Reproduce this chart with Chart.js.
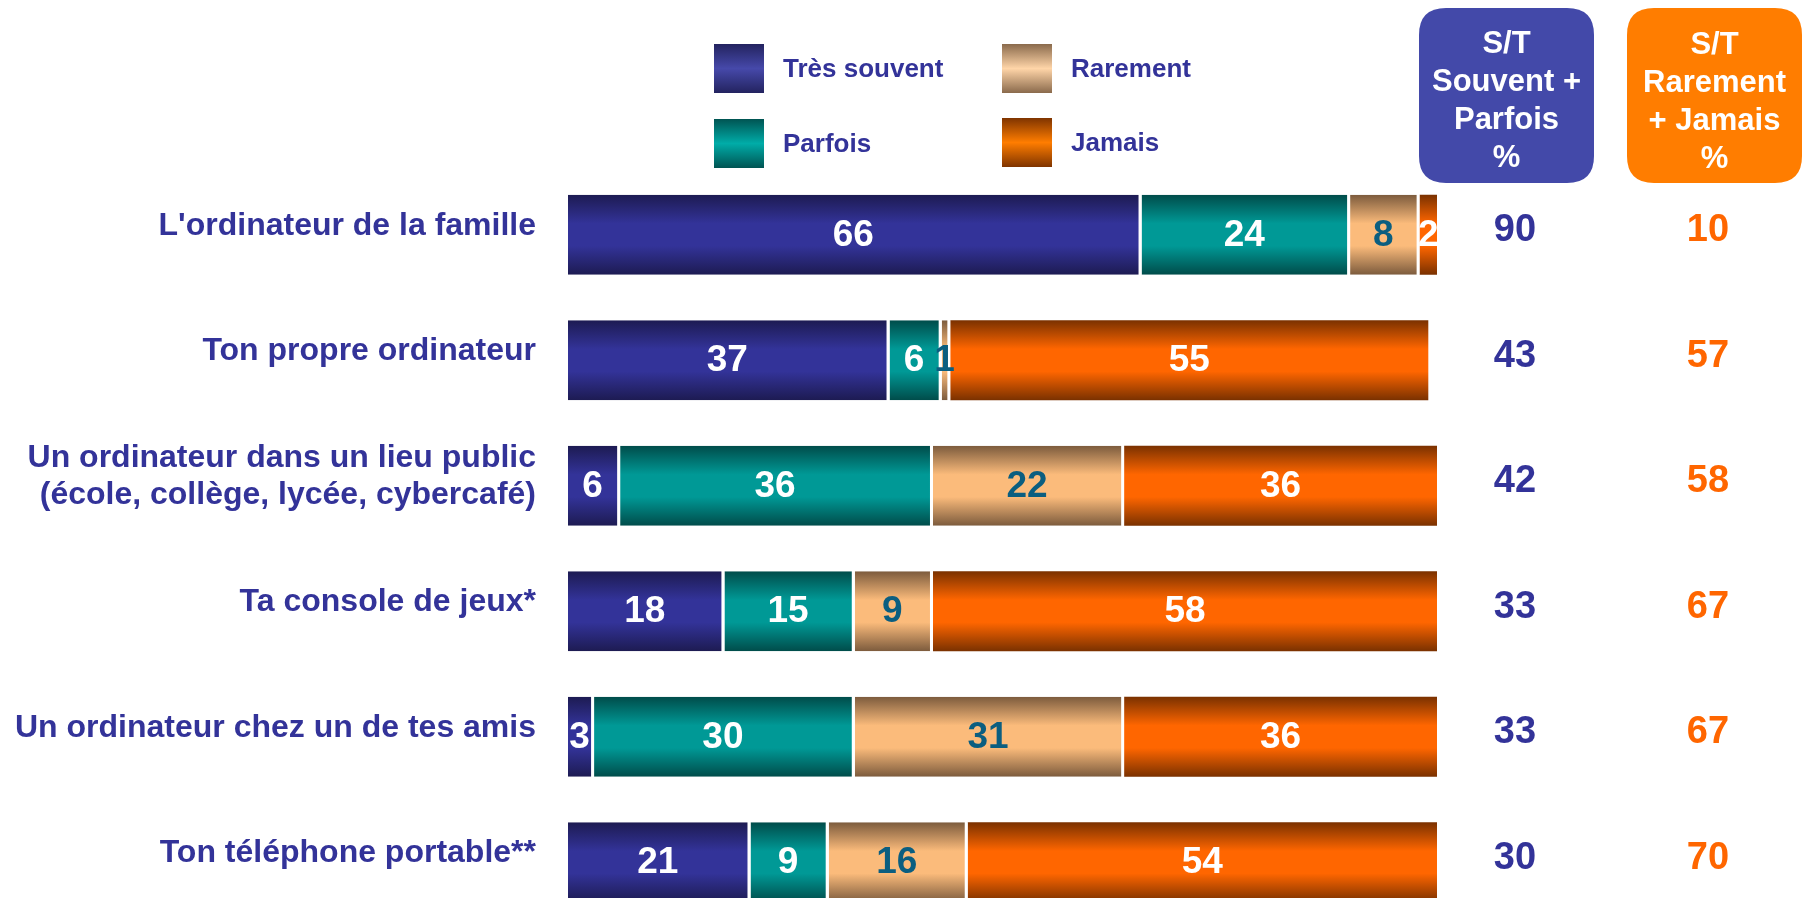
<!DOCTYPE html>
<html>
<head>
<meta charset="utf-8">
<script src="https://cdn.jsdelivr.net/npm/chart.js@4/dist/chart.umd.min.js"></script>
<style>
  html, body { margin: 0; padding: 0; background: #ffffff; overflow: hidden; }
  #frame { width: 1803px; height: 898px; overflow: hidden; position: relative; }
  #chart { display: block; }
</style>
</head>
<body>
<div id="frame"><canvas id="chart" width="1803" height="930"></canvas></div>
<script>
// ---------- data ----------
const CATEGORIES = [
  "L'ordinateur de la famille",
  "Ton propre ordinateur",
  ["Un ordinateur dans un lieu public", "(école, collège, lycée, cybercafé)"],
  "Ta console de jeux*",
  "Un ordinateur chez un de tes amis",
  "Ton téléphone portable**"
];
const SERIES_NAMES = ["Très souvent", "Parfois", "Rarement", "Jamais"];
const TRES_SOUVENT = [66, 37, 6, 18, 3, 21];
const PARFOIS      = [24, 6, 36, 15, 30, 9];
const RAREMENT     = [8, 1, 22, 9, 31, 16];
const JAMAIS       = [2, 55, 36, 58, 36, 54];
const ST_SOUVENT_PARFOIS = [90, 43, 42, 33, 33, 30];
const ST_RAREMENT_JAMAIS = [10, 57, 58, 67, 67, 70];
const HEADER_LEFT  = ["S/T", "Souvent +", "Parfois", "%"];
const HEADER_RIGHT = ["S/T", "Rarement", "+ Jamais", "%"];

// ---------- styles ----------
const FONT = '"Liberation Sans", Arial, Helvetica, sans-serif';
const TEXT_BLUE = '#333399';
const TEXT_ORANGE = '#ff6600';
const BAR_PCT = 0.637;
const STYLES = [
  { edge: '#1d1b52', mid: '#333399', legEdge: '#23235f', legMid: '#4649aa', label: '#ffffff' },
  { edge: '#004c4a', mid: '#009996', legEdge: '#005452', legMid: '#00aca8', label: '#ffffff' },
  { edge: '#7c5b3d', mid: '#fbbb7b', legEdge: '#8a6a4c', legMid: '#ffd5a8', label: '#0b5e80' },
  { edge: '#7a3100', mid: '#ff6600', legEdge: '#7f3400', legMid: '#ff7d00', label: '#ffffff' }
];
const GAP = 3;

function barGradient(ctx, style) {
  if (ctx.type !== 'data') return style.mid;
  const chart = ctx.chart;
  const ys = chart.scales && chart.scales.y;
  if (!ys || !chart.chartArea) return style.mid;
  const c = ys.getPixelForValue(ctx.dataIndex);
  const half = (ys.height / CATEGORIES.length) * BAR_PCT / 2;
  const g = chart.ctx.createLinearGradient(0, c - half, 0, c + half);
  g.addColorStop(0, style.edge);
  g.addColorStop(0.36, style.mid);
  g.addColorStop(0.64, style.mid);
  g.addColorStop(1, style.edge);
  return g;
}

const SERIES = [TRES_SOUVENT, PARFOIS, RAREMENT, JAMAIS];
const datasets = SERIES.map((vals, i) => ({
  label: SERIES_NAMES[i],
  data: vals,
  backgroundColor: (ctx) => barGradient(ctx, STYLES[i]),
  borderColor: '#ffffff',
  borderWidth: { left: 0, right: i === SERIES.length - 1 ? 0 : GAP, top: 0, bottom: 0 },
  borderSkipped: false,
  barPercentage: BAR_PCT,
  categoryPercentage: 1.0
}));

// ---------- plugins ----------
const barLabels = {
  id: 'barLabels',
  afterDatasetsDraw(chart) {
    const ctx = chart.ctx, a = chart.chartArea;
    ctx.save();
    ctx.beginPath();
    ctx.rect(a.left, a.top, a.right - a.left, a.bottom - a.top);
    ctx.clip();
    ctx.font = 'bold 37px ' + FONT;
    ctx.textAlign = 'center';
    ctx.textBaseline = 'middle';
    chart.data.datasets.forEach((ds, i) => {
      const meta = chart.getDatasetMeta(i);
      const br = ds.borderWidth.right || 0;
      meta.data.forEach((el, j) => {
        const p = el.getProps(['x', 'y', 'base'], true);
        const cx = (p.base + p.x - br) / 2;
        ctx.fillStyle = STYLES[i].label;
        ctx.fillText(String(ds.data[j]), cx, p.y + 1);
      });
    });
    ctx.restore();
  }
};

function roundRect(ctx, x, y, w, h, r) {
  ctx.beginPath();
  ctx.moveTo(x + r, y);
  ctx.lineTo(x + w - r, y);
  ctx.quadraticCurveTo(x + w, y, x + w, y + r);
  ctx.lineTo(x + w, y + h - r);
  ctx.quadraticCurveTo(x + w, y + h, x + w - r, y + h);
  ctx.lineTo(x + r, y + h);
  ctx.quadraticCurveTo(x, y + h, x, y + h - r);
  ctx.lineTo(x, y + r);
  ctx.quadraticCurveTo(x, y, x + r, y);
  ctx.closePath();
}

const decorations = {
  id: 'decorations',
  afterDraw(chart) {
    const ctx = chart.ctx;
    const ys = chart.scales.y;
    ctx.save();

    // legend (2 columns x 2 rows)
    const LEG = [
      { x: 714, y: 44 }, { x: 714, y: 119 }, { x: 1002, y: 44 }, { x: 1002, y: 118 }
    ];
    ctx.font = 'bold 26px ' + FONT;
    ctx.textAlign = 'left';
    ctx.textBaseline = 'alphabetic';
    SERIES_NAMES.forEach((name, i) => {
      const s = STYLES[i], L = LEG[i];
      const g = ctx.createLinearGradient(0, L.y, 0, L.y + 49);
      g.addColorStop(0, s.legEdge);
      g.addColorStop(0.5, s.legMid);
      g.addColorStop(1, s.legEdge);
      ctx.fillStyle = g;
      ctx.fillRect(L.x, L.y, 50, 49);
      ctx.fillStyle = TEXT_BLUE;
      ctx.fillText(name, L.x + 69, L.y + 33);
    });

    // header boxes
    const boxes = [
      { x: 1419, color: '#4349a9', lines: HEADER_LEFT, vals: ST_SOUVENT_PARFOIS, vcolor: TEXT_BLUE, vx: 1515 },
      { x: 1627, color: '#ff7d00', lines: HEADER_RIGHT, vals: ST_RAREMENT_JAMAIS, vcolor: TEXT_ORANGE, vx: 1708 }
    ];
    boxes.forEach((b, k) => {
      ctx.fillStyle = b.color;
      roundRect(ctx, b.x, 8, 175, 175, 27);
      ctx.fill();
      ctx.fillStyle = '#ffffff';
      ctx.font = 'bold 31px ' + FONT;
      ctx.textAlign = 'center';
      ctx.textBaseline = 'middle';
      b.lines.forEach((t, li) => {
        ctx.fillText(t, b.x + 87.5, 44 + k + li * 38.3);
      });
      // totals
      ctx.fillStyle = b.vcolor;
      ctx.font = 'bold 38px ' + FONT;
      b.vals.forEach((v, j) => {
        ctx.fillText(String(v), b.vx, ys.getPixelForValue(j) - 4);
      });
    });
    ctx.restore();
  }
};

Chart.defaults.font.family = FONT;

new Chart(document.getElementById('chart'), {
  type: 'bar',
  data: { labels: CATEGORIES, datasets },
  options: {
    indexAxis: 'y',
    responsive: false,
    maintainAspectRatio: false,
    devicePixelRatio: 1,
    animation: false,
    layout: { padding: { left: 0, top: 172, right: 366, bottom: 5 } },
    plugins: { legend: { display: false }, tooltip: { enabled: false } },
    scales: {
      x: { stacked: true, min: 0, max: 100, display: false },
      y: {
        stacked: true,
        offset: true,
        grid: { display: false, drawTicks: false },
        border: { display: false },
        afterFit(scale) {
          scale.width = 568;
          scale.paddingTop = 0;
          scale.paddingBottom = 0;
        },
        ticks: {
          autoSkip: false,
          padding: 32,
          labelOffset: -9,
          color: TEXT_BLUE,
          font: { family: FONT, size: 32, weight: 'bold', lineHeight: 1.15 }
        }
      }
    }
  },
  plugins: [barLabels, decorations]
});
</script>
</body>
</html>
